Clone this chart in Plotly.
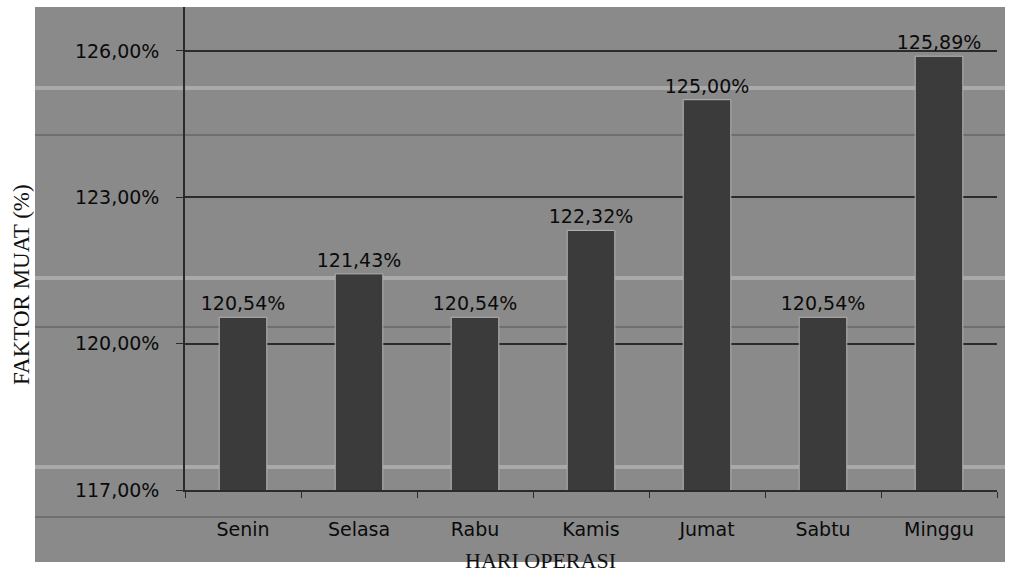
import plotly.graph_objects as go

days = ["Senin", "Selasa", "Rabu", "Kamis", "Jumat", "Sabtu", "Minggu"]
load_factor = [120.54, 121.43, 120.54, 122.32, 125.00, 120.54, 125.89]
y_ticks = [117, 120, 123, 126]
y_tick_text = [f"{v:.2f}%".replace(".", ",") for v in y_ticks]

W, H = 1020, 575
ML, MR, MT, MB = 185, 23, 7, 85
pw = W - ML - MR
ph = H - MT - MB

def px_x(x):
    return (x - ML) / pw

def px_y(y):
    return (H - MB - y) / ph

fig = go.Figure()
fig.add_trace(go.Bar(
    x=days, y=load_factor,
    marker=dict(color="#3b3b3b", line=dict(color="#b5b5b5", width=1)),
    texttemplate="%{y:.2f}%", textposition="outside", constraintext="none",
    textfont=dict(family="DejaVu Sans", size=19, color="#0a0a0a"),
    cliponaxis=False, width=0.41,
))

shapes = [
    dict(type="rect", xref="paper", yref="paper", layer="below",
         x0=px_x(35), x1=px_x(1005), y0=px_y(562), y1=1.0,
         fillcolor="#8a8a8a", line=dict(width=0)),
]
# scanner light streaks
for yy in [88, 278, 467]:
    shapes.append(dict(type="line", xref="paper", yref="paper", layer="below",
                       x0=px_x(35), x1=px_x(1005), y0=px_y(yy), y1=px_y(yy),
                       line=dict(color="#a9a9a9", width=4)))
for yy in [135, 327, 517]:
    shapes.append(dict(type="line", xref="paper", yref="paper", layer="below",
                       x0=px_x(35), x1=px_x(1005), y0=px_y(yy), y1=px_y(yy),
                       line=dict(color="#555555", width=1)))

fig.update_layout(
    width=W, height=H,
    margin=dict(l=ML, r=MR, t=MT, b=MB),
    paper_bgcolor="white", plot_bgcolor="rgba(0,0,0,0)",
    separators=",.",
    showlegend=False,
    bargap=0.59,
    shapes=shapes,
    font=dict(family="DejaVu Sans", color="#0a0a0a"),
    annotations=[
        dict(text="FAKTOR MUAT (%)", xref="paper", yref="paper",
             x=px_x(21), y=px_y(285), xanchor="center", yanchor="middle",
             textangle=-90, showarrow=False,
             font=dict(family="Liberation Serif", size=23, color="#111111")),
        dict(text="HARI OPERASI", xref="paper", yref="paper",
             x=px_x(540), y=px_y(560), xanchor="center", yanchor="middle",
             showarrow=False,
             font=dict(family="Liberation Serif", size=22, color="#111111")),
    ],
)
fig.update_yaxes(
    range=[117, 126.9], tickvals=y_ticks, ticktext=y_tick_text,
    showgrid=True, gridcolor="#2b2b2b", gridwidth=1.5, zeroline=False,
    showline=True, linecolor="#2b2b2b", linewidth=1.5,
    ticks="outside", ticklen=7, tickcolor="#2b2b2b",
    ticklabelstandoff=13,
    tickfont=dict(family="DejaVu Sans", size=19, color="#0a0a0a"),
)
fig.update_xaxes(
    showgrid=False, showline=True, linecolor="#2b2b2b", linewidth=1.5,
    ticks="outside", tickson="boundaries", ticklen=6, tickcolor="#2b2b2b",
    ticklabelstandoff=21,
    tickfont=dict(family="DejaVu Sans", size=19, color="#0a0a0a"),
)

fig.write_html("out.html")
